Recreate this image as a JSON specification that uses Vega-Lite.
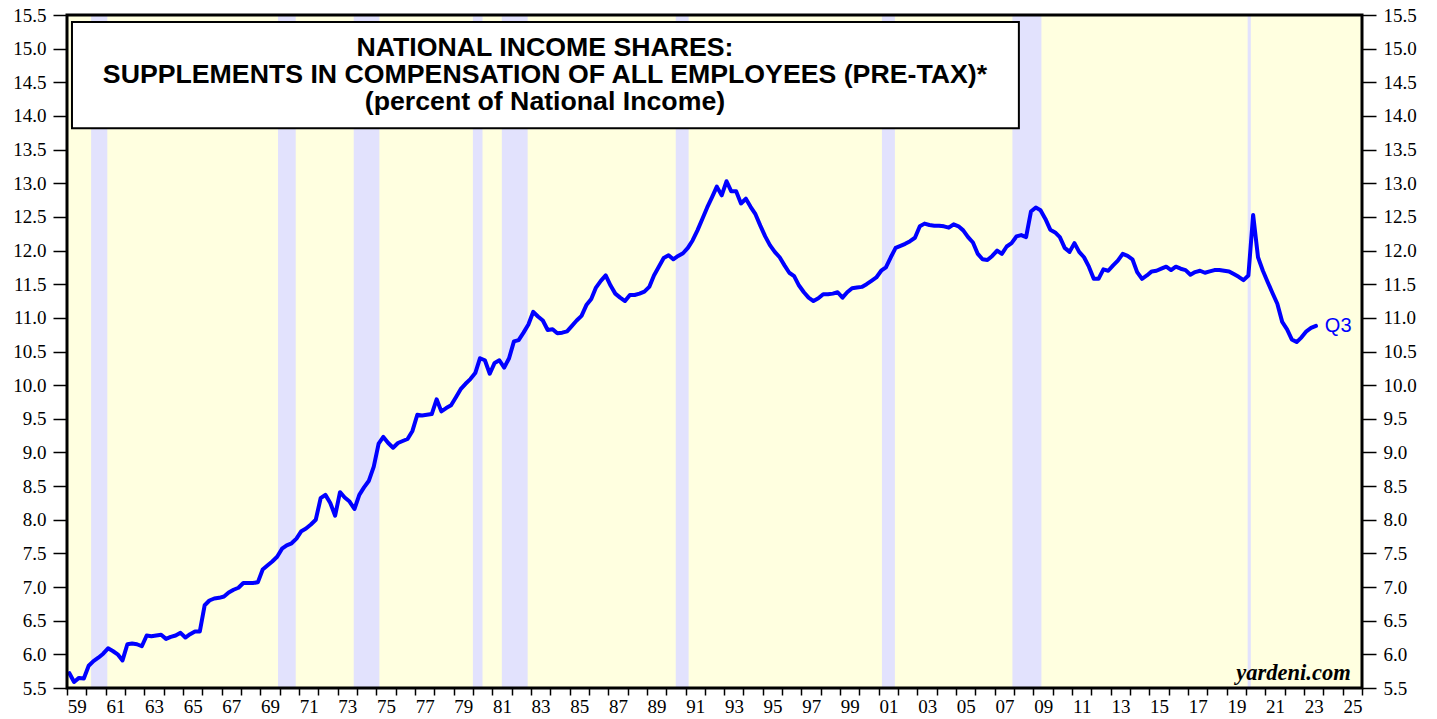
{
  "$schema": "https://vega.github.io/schema/vega-lite/v6.json",
  "width": 1295,
  "height": 673,
  "autosize": "none",
  "padding": {"left": 67, "top": 15, "right": 75, "bottom": 31},
  "background": "white",
  "config": {"view": {"stroke": null, "fill": "#ffffe0"}},
  "datasets": {
    "rec": [
      {"s": "1960-04-01", "e": "1961-02-01"},
      {"s": "1969-12-01", "e": "1970-11-01"},
      {"s": "1973-11-01", "e": "1975-03-01"},
      {"s": "1980-01-01", "e": "1980-07-01"},
      {"s": "1981-07-01", "e": "1982-11-01"},
      {"s": "1990-07-01", "e": "1991-03-01"},
      {"s": "2001-03-01", "e": "2001-11-01"},
      {"s": "2007-12-01", "e": "2009-06-01"},
      {"s": "2020-02-01", "e": "2020-04-01"}
    ],
    "series": [
      {"t":"1959-02-15","v":5.72},{"t":"1959-05-15","v":5.59},{"t":"1959-08-15","v":5.65},{"t":"1959-11-15","v":5.64},
      {"t":"1960-02-15","v":5.83},{"t":"1960-05-15","v":5.90},{"t":"1960-08-15","v":5.95},{"t":"1960-11-15","v":6.01},
      {"t":"1961-02-15","v":6.09},{"t":"1961-05-15","v":6.05},{"t":"1961-08-15","v":6.00},{"t":"1961-11-15","v":5.91},
      {"t":"1962-02-15","v":6.15},{"t":"1962-05-15","v":6.16},{"t":"1962-08-15","v":6.15},{"t":"1962-11-15","v":6.12},
      {"t":"1963-02-15","v":6.28},{"t":"1963-05-15","v":6.27},{"t":"1963-08-15","v":6.28},{"t":"1963-11-15","v":6.29},
      {"t":"1964-02-15","v":6.23},{"t":"1964-05-15","v":6.26},{"t":"1964-08-15","v":6.28},{"t":"1964-11-15","v":6.32},
      {"t":"1965-02-15","v":6.25},{"t":"1965-05-15","v":6.30},{"t":"1965-08-15","v":6.34},{"t":"1965-11-15","v":6.34},
      {"t":"1966-02-15","v":6.73},{"t":"1966-05-15","v":6.80},{"t":"1966-08-15","v":6.83},{"t":"1966-11-15","v":6.84},
      {"t":"1967-02-15","v":6.86},{"t":"1967-05-15","v":6.92},{"t":"1967-08-15","v":6.96},{"t":"1967-11-15","v":6.99},
      {"t":"1968-02-15","v":7.06},{"t":"1968-05-15","v":7.06},{"t":"1968-08-15","v":7.06},{"t":"1968-11-15","v":7.07},
      {"t":"1969-02-15","v":7.26},{"t":"1969-05-15","v":7.32},{"t":"1969-08-15","v":7.38},{"t":"1969-11-15","v":7.45},
      {"t":"1970-02-15","v":7.57},{"t":"1970-05-15","v":7.62},{"t":"1970-08-15","v":7.65},{"t":"1970-11-15","v":7.72},
      {"t":"1971-02-15","v":7.83},{"t":"1971-05-15","v":7.87},{"t":"1971-08-15","v":7.93},{"t":"1971-11-15","v":8.00},
      {"t":"1972-02-15","v":8.32},{"t":"1972-05-15","v":8.37},{"t":"1972-08-15","v":8.25},{"t":"1972-11-15","v":8.06},
      {"t":"1973-02-15","v":8.41},{"t":"1973-05-15","v":8.33},{"t":"1973-08-15","v":8.27},{"t":"1973-11-15","v":8.16},
      {"t":"1974-02-15","v":8.37},{"t":"1974-05-15","v":8.48},{"t":"1974-08-15","v":8.58},{"t":"1974-11-15","v":8.79},
      {"t":"1975-02-15","v":9.13},{"t":"1975-05-15","v":9.23},{"t":"1975-08-15","v":9.14},{"t":"1975-11-15","v":9.07},
      {"t":"1976-02-15","v":9.14},{"t":"1976-05-15","v":9.17},{"t":"1976-08-15","v":9.20},{"t":"1976-11-15","v":9.32},
      {"t":"1977-02-15","v":9.56},{"t":"1977-05-15","v":9.55},{"t":"1977-08-15","v":9.56},{"t":"1977-11-15","v":9.57},
      {"t":"1978-02-15","v":9.79},{"t":"1978-05-15","v":9.61},{"t":"1978-08-15","v":9.66},{"t":"1978-11-15","v":9.70},
      {"t":"1979-02-15","v":9.82},{"t":"1979-05-15","v":9.94},{"t":"1979-08-15","v":10.02},{"t":"1979-11-15","v":10.09},
      {"t":"1980-02-15","v":10.18},{"t":"1980-05-15","v":10.40},{"t":"1980-08-15","v":10.37},{"t":"1980-11-15","v":10.17},
      {"t":"1981-02-15","v":10.33},{"t":"1981-05-15","v":10.37},{"t":"1981-08-15","v":10.26},{"t":"1981-11-15","v":10.40},
      {"t":"1982-02-15","v":10.65},{"t":"1982-05-15","v":10.67},{"t":"1982-08-15","v":10.78},{"t":"1982-11-15","v":10.90},
      {"t":"1983-02-15","v":11.09},{"t":"1983-05-15","v":11.02},{"t":"1983-08-15","v":10.96},{"t":"1983-11-15","v":10.82},
      {"t":"1984-02-15","v":10.83},{"t":"1984-05-15","v":10.77},{"t":"1984-08-15","v":10.78},{"t":"1984-11-15","v":10.80},
      {"t":"1985-02-15","v":10.88},{"t":"1985-05-15","v":10.96},{"t":"1985-08-15","v":11.03},{"t":"1985-11-15","v":11.19},
      {"t":"1986-02-15","v":11.28},{"t":"1986-05-15","v":11.45},{"t":"1986-08-15","v":11.55},{"t":"1986-11-15","v":11.63},
      {"t":"1987-02-15","v":11.48},{"t":"1987-05-15","v":11.36},{"t":"1987-08-15","v":11.30},{"t":"1987-11-15","v":11.25},
      {"t":"1988-02-15","v":11.34},{"t":"1988-05-15","v":11.34},{"t":"1988-08-15","v":11.36},{"t":"1988-11-15","v":11.39},
      {"t":"1989-02-15","v":11.46},{"t":"1989-05-15","v":11.63},{"t":"1989-08-15","v":11.76},{"t":"1989-11-15","v":11.89},
      {"t":"1990-02-15","v":11.93},{"t":"1990-05-15","v":11.87},{"t":"1990-08-15","v":11.92},{"t":"1990-11-15","v":11.96},
      {"t":"1991-02-15","v":12.04},{"t":"1991-05-15","v":12.15},{"t":"1991-08-15","v":12.30},{"t":"1991-11-15","v":12.47},
      {"t":"1992-02-15","v":12.64},{"t":"1992-05-15","v":12.79},{"t":"1992-08-15","v":12.95},{"t":"1992-11-15","v":12.82},
      {"t":"1993-02-15","v":13.03},{"t":"1993-05-15","v":12.88},{"t":"1993-08-15","v":12.88},{"t":"1993-11-15","v":12.70},
      {"t":"1994-02-15","v":12.77},{"t":"1994-05-15","v":12.65},{"t":"1994-08-15","v":12.54},{"t":"1994-11-15","v":12.37},
      {"t":"1995-02-15","v":12.21},{"t":"1995-05-15","v":12.08},{"t":"1995-08-15","v":11.98},{"t":"1995-11-15","v":11.90},
      {"t":"1996-02-15","v":11.78},{"t":"1996-05-15","v":11.67},{"t":"1996-08-15","v":11.62},{"t":"1996-11-15","v":11.48},
      {"t":"1997-02-15","v":11.38},{"t":"1997-05-15","v":11.30},{"t":"1997-08-15","v":11.25},{"t":"1997-11-15","v":11.29},
      {"t":"1998-02-15","v":11.35},{"t":"1998-05-15","v":11.35},{"t":"1998-08-15","v":11.36},{"t":"1998-11-15","v":11.38},
      {"t":"1999-02-15","v":11.30},{"t":"1999-05-15","v":11.38},{"t":"1999-08-15","v":11.44},{"t":"1999-11-15","v":11.45},
      {"t":"2000-02-15","v":11.46},{"t":"2000-05-15","v":11.50},{"t":"2000-08-15","v":11.55},{"t":"2000-11-15","v":11.60},
      {"t":"2001-02-15","v":11.70},{"t":"2001-05-15","v":11.75},{"t":"2001-08-15","v":11.90},{"t":"2001-11-15","v":12.04},
      {"t":"2002-02-15","v":12.07},{"t":"2002-05-15","v":12.10},{"t":"2002-08-15","v":12.14},{"t":"2002-11-15","v":12.19},
      {"t":"2003-02-15","v":12.36},{"t":"2003-05-15","v":12.40},{"t":"2003-08-15","v":12.38},{"t":"2003-11-15","v":12.37},
      {"t":"2004-02-15","v":12.37},{"t":"2004-05-15","v":12.36},{"t":"2004-08-15","v":12.34},{"t":"2004-11-15","v":12.39},
      {"t":"2005-02-15","v":12.36},{"t":"2005-05-15","v":12.30},{"t":"2005-08-15","v":12.20},{"t":"2005-11-15","v":12.12},
      {"t":"2006-02-15","v":11.95},{"t":"2006-05-15","v":11.87},{"t":"2006-08-15","v":11.86},{"t":"2006-11-15","v":11.92},
      {"t":"2007-02-15","v":12.00},{"t":"2007-05-15","v":11.95},{"t":"2007-08-15","v":12.06},{"t":"2007-11-15","v":12.11},
      {"t":"2008-02-15","v":12.21},{"t":"2008-05-15","v":12.23},{"t":"2008-08-15","v":12.20},{"t":"2008-11-15","v":12.58},
      {"t":"2009-02-15","v":12.64},{"t":"2009-05-15","v":12.60},{"t":"2009-08-15","v":12.47},{"t":"2009-11-15","v":12.31},
      {"t":"2010-02-15","v":12.27},{"t":"2010-05-15","v":12.20},{"t":"2010-08-15","v":12.04},{"t":"2010-11-15","v":11.98},
      {"t":"2011-02-15","v":12.11},{"t":"2011-05-15","v":11.98},{"t":"2011-08-15","v":11.90},{"t":"2011-11-15","v":11.76},
      {"t":"2012-02-15","v":11.58},{"t":"2012-05-15","v":11.58},{"t":"2012-08-15","v":11.72},{"t":"2012-11-15","v":11.70},
      {"t":"2013-02-15","v":11.78},{"t":"2013-05-15","v":11.85},{"t":"2013-08-15","v":11.95},{"t":"2013-11-15","v":11.92},
      {"t":"2014-02-15","v":11.87},{"t":"2014-05-15","v":11.68},{"t":"2014-08-15","v":11.58},{"t":"2014-11-15","v":11.63},
      {"t":"2015-02-15","v":11.69},{"t":"2015-05-15","v":11.70},{"t":"2015-08-15","v":11.73},{"t":"2015-11-15","v":11.76},
      {"t":"2016-02-15","v":11.71},{"t":"2016-05-15","v":11.76},{"t":"2016-08-15","v":11.73},{"t":"2016-11-15","v":11.71},
      {"t":"2017-02-15","v":11.64},{"t":"2017-05-15","v":11.68},{"t":"2017-08-15","v":11.70},{"t":"2017-11-15","v":11.67},
      {"t":"2018-02-15","v":11.69},{"t":"2018-05-15","v":11.71},{"t":"2018-08-15","v":11.71},{"t":"2018-11-15","v":11.70},
      {"t":"2019-02-15","v":11.69},{"t":"2019-05-15","v":11.65},{"t":"2019-08-15","v":11.61},{"t":"2019-11-15","v":11.56},
      {"t":"2020-02-15","v":11.63},{"t":"2020-05-15","v":12.53},{"t":"2020-08-15","v":11.90},{"t":"2020-11-15","v":11.70},
      {"t":"2021-02-15","v":11.53},{"t":"2021-05-15","v":11.37},{"t":"2021-08-15","v":11.21},{"t":"2021-11-15","v":10.94},
      {"t":"2022-02-15","v":10.83},{"t":"2022-05-15","v":10.68},{"t":"2022-08-15","v":10.64},{"t":"2022-11-15","v":10.71},
      {"t":"2023-02-15","v":10.80},{"t":"2023-05-15","v":10.85},{"t":"2023-08-15","v":10.88}
    ]
  },
  "layer": [
    {
      "data": {"name": "rec"},
      "mark": {"type": "rect", "color": "#e2e2fd"},
      "encoding": {
        "x": {"field": "s", "type": "temporal", "axis": null,
              "scale": {"domain": [{"year": 1959, "month": 1, "date": 1}, {"year": 2026, "month": 1, "date": 1}], "nice": false}},
        "x2": {"field": "e"},
        "y": {"datum": 5.5, "type": "quantitative", "axis": null,
              "scale": {"domain": [5.5, 15.5], "nice": false, "zero": false}},
        "y2": {"datum": 15.5}
      }
    },
    {
      "data": {"name": "series"},
      "mark": {"type": "line", "color": "#0000ff", "strokeWidth": 4, "strokeJoin": "round", "strokeCap": "round"},
      "encoding": {
        "x": {"field": "t", "type": "temporal",
              "scale": {"domain": [{"year": 1959, "month": 1, "date": 1}, {"year": 2026, "month": 1, "date": 1}], "nice": false},
              "axis": {"orient": "bottom", "title": null, "grid": false, "domain": false,
                       "values": [
                         {"year": 1959, "month": 1, "date": 1}, {"year": 1960, "month": 1, "date": 1}, {"year": 1961, "month": 1, "date": 1},
                         {"year": 1962, "month": 1, "date": 1}, {"year": 1963, "month": 1, "date": 1}, {"year": 1964, "month": 1, "date": 1},
                         {"year": 1965, "month": 1, "date": 1}, {"year": 1966, "month": 1, "date": 1}, {"year": 1967, "month": 1, "date": 1},
                         {"year": 1968, "month": 1, "date": 1}, {"year": 1969, "month": 1, "date": 1}, {"year": 1970, "month": 1, "date": 1},
                         {"year": 1971, "month": 1, "date": 1}, {"year": 1972, "month": 1, "date": 1}, {"year": 1973, "month": 1, "date": 1},
                         {"year": 1974, "month": 1, "date": 1}, {"year": 1975, "month": 1, "date": 1}, {"year": 1976, "month": 1, "date": 1},
                         {"year": 1977, "month": 1, "date": 1}, {"year": 1978, "month": 1, "date": 1}, {"year": 1979, "month": 1, "date": 1},
                         {"year": 1980, "month": 1, "date": 1}, {"year": 1981, "month": 1, "date": 1}, {"year": 1982, "month": 1, "date": 1},
                         {"year": 1983, "month": 1, "date": 1}, {"year": 1984, "month": 1, "date": 1}, {"year": 1985, "month": 1, "date": 1},
                         {"year": 1986, "month": 1, "date": 1}, {"year": 1987, "month": 1, "date": 1}, {"year": 1988, "month": 1, "date": 1},
                         {"year": 1989, "month": 1, "date": 1}, {"year": 1990, "month": 1, "date": 1}, {"year": 1991, "month": 1, "date": 1},
                         {"year": 1992, "month": 1, "date": 1}, {"year": 1993, "month": 1, "date": 1}, {"year": 1994, "month": 1, "date": 1},
                         {"year": 1995, "month": 1, "date": 1}, {"year": 1996, "month": 1, "date": 1}, {"year": 1997, "month": 1, "date": 1},
                         {"year": 1998, "month": 1, "date": 1}, {"year": 1999, "month": 1, "date": 1}, {"year": 2000, "month": 1, "date": 1},
                         {"year": 2001, "month": 1, "date": 1}, {"year": 2002, "month": 1, "date": 1}, {"year": 2003, "month": 1, "date": 1},
                         {"year": 2004, "month": 1, "date": 1}, {"year": 2005, "month": 1, "date": 1}, {"year": 2006, "month": 1, "date": 1},
                         {"year": 2007, "month": 1, "date": 1}, {"year": 2008, "month": 1, "date": 1}, {"year": 2009, "month": 1, "date": 1},
                         {"year": 2010, "month": 1, "date": 1}, {"year": 2011, "month": 1, "date": 1}, {"year": 2012, "month": 1, "date": 1},
                         {"year": 2013, "month": 1, "date": 1}, {"year": 2014, "month": 1, "date": 1}, {"year": 2015, "month": 1, "date": 1},
                         {"year": 2016, "month": 1, "date": 1}, {"year": 2017, "month": 1, "date": 1}, {"year": 2018, "month": 1, "date": 1},
                         {"year": 2019, "month": 1, "date": 1}, {"year": 2020, "month": 1, "date": 1}, {"year": 2021, "month": 1, "date": 1},
                         {"year": 2022, "month": 1, "date": 1}, {"year": 2023, "month": 1, "date": 1}, {"year": 2024, "month": 1, "date": 1},
                         {"year": 2025, "month": 1, "date": 1}, {"year": 2026, "month": 1, "date": 1}
                       ],
                       "labelExpr": "year(datum.value) % 2 == 1 ? timeFormat(datum.value, '%y') : ''",
                       "labelOffset": 9.7, "labelOverlap": false, "labelFlush": false, "labelBound": false,
                       "tickSize": 7, "tickWidth": 1.5, "tickColor": "#000",
                       "labelPadding": 2, "labelFont": "Liberation Serif", "labelFontSize": 19, "labelColor": "#000"}},
        "y": {"field": "v", "type": "quantitative",
              "scale": {"domain": [5.5, 15.5], "nice": false, "zero": false},
              "axis": {"orient": "left", "title": null, "grid": false, "domain": false,
                       "values": [5.5, 6, 6.5, 7, 7.5, 8, 8.5, 9, 9.5, 10, 10.5, 11, 11.5, 12, 12.5, 13, 13.5, 14, 14.5, 15, 15.5],
                       "format": ".1f", "labelOverlap": false, "labelFlush": false,
                       "tickSize": 14, "tickWidth": 1.5, "tickColor": "#000",
                       "labelPadding": 7, "labelFont": "Liberation Serif", "labelFontSize": 19, "labelColor": "#000"}}
      }
    },
    {
      "data": {"values": [{}]},
      "mark": {"type": "rect", "fill": "#ffffff", "stroke": "#000000", "strokeWidth": 2},
      "encoding": {
        "x": {"datum": {"year": 1959, "month": 4, "date": 5}, "type": "temporal", "axis": null},
        "x2": {"datum": {"year": 2008, "month": 4, "date": 1}},
        "y": {"datum": 15.396, "type": "quantitative", "axis": null},
        "y2": {"datum": 13.816}
      }
    },
    {
      "data": {"values": [{}]},
      "mark": {"type": "text", "align": "center", "baseline": "top", "font": "Liberation Sans", "fontWeight": "bold",
               "fontSize": 26.7, "lineHeight": 27, "color": "#000",
               "text": ["NATIONAL INCOME SHARES:", "SUPPLEMENTS IN COMPENSATION OF ALL EMPLOYEES (PRE-TAX)*", "(percent of National Income)"]},
      "encoding": {
        "x": {"datum": {"year": 1983, "month": 9, "date": 24}, "type": "temporal", "axis": null},
        "y": {"datum": 15.2, "type": "quantitative", "axis": null}
      }
    },
    {
      "data": {"values": [{}]},
      "mark": {"type": "text", "align": "left", "baseline": "middle", "font": "Liberation Sans", "fontSize": 20,
               "color": "#0000ff", "text": "Q3"},
      "encoding": {
        "x": {"datum": {"year": 2024, "month": 1, "date": 30}, "type": "temporal", "axis": null},
        "y": {"datum": 10.88, "type": "quantitative", "axis": null}
      }
    },
    {
      "data": {"values": [{}]},
      "mark": {"type": "text", "align": "right", "baseline": "alphabetic", "font": "Liberation Serif", "fontSize": 22.5,
               "fontWeight": "bold", "fontStyle": "italic", "color": "#000", "text": "yardeni.com"},
      "encoding": {
        "x": {"datum": {"year": 2025, "month": 6, "date": 1}, "type": "temporal", "axis": null},
        "y": {"datum": 5.619, "type": "quantitative", "axis": null}
      }
    },
    {
      "data": {"values": [{}]},
      "mark": {"type": "rect", "filled": false, "stroke": "#000000", "strokeWidth": 3},
      "encoding": {
        "x": {"datum": {"year": 1959, "month": 1, "date": 1}, "type": "temporal", "axis": null},
        "x2": {"datum": {"year": 2026, "month": 1, "date": 1}},
        "y": {"datum": 5.5, "type": "quantitative",
              "axis": {"orient": "right", "title": null, "grid": false, "domain": false,
                       "values": [5.5, 6, 6.5, 7, 7.5, 8, 8.5, 9, 9.5, 10, 10.5, 11, 11.5, 12, 12.5, 13, 13.5, 14, 14.5, 15, 15.5],
                       "format": ".1f", "labelOverlap": false, "labelFlush": false,
                       "tickSize": 14, "tickWidth": 1.5, "tickColor": "#000",
                       "labelPadding": 7, "labelFont": "Liberation Serif", "labelFontSize": 19, "labelColor": "#000"}},
        "y2": {"datum": 15.5}
      }
    }
  ],
  "resolve": {"axis": {"x": "independent", "y": "independent"}}
}
